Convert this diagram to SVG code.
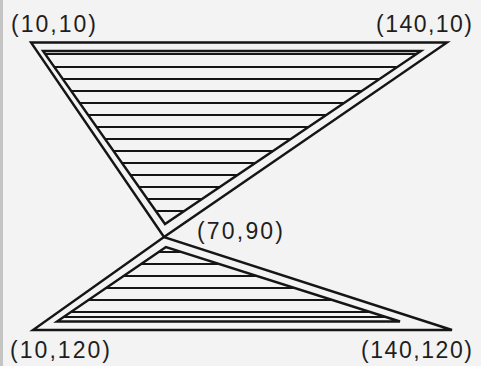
<svg xmlns="http://www.w3.org/2000/svg" width="481" height="366" viewBox="0 0 481 366">
  <style>
    .edge { fill: none; stroke: #151515; stroke-width: 2.4; stroke-linejoin: miter; }
    .hatch { stroke: #151515; stroke-width: 2.1; }
    .lbl { font-family: "Liberation Sans", Arial, sans-serif; font-size: 23px; fill: #1e1e1e; }
  </style>
  <defs>
    <clipPath id="clipTop">
      <polygon points="43,51 421,51 165,224"/>
    </clipPath>
    <clipPath id="clipBot">
      <polygon points="166,247 57,321.5 400,321.5"/>
    </clipPath>
  </defs>
  <rect x="0" y="0" width="481" height="366" fill="#f3f3f3"/>
  <rect x="0" y="0" width="3" height="366" fill="#c4c4c4"/>

  <g id="top-triangle">
    <polygon class="edge" points="31,42.5 447,42.5 164,237"/>
    <polygon class="edge" points="43,51 421,51 165,224"/>
    <g clip-path="url(#clipTop)">
      <line class="hatch" x1="0" y1="54" x2="481" y2="54"/>
      <line class="hatch" x1="0" y1="67" x2="481" y2="67"/>
      <line class="hatch" x1="0" y1="79" x2="481" y2="79"/>
      <line class="hatch" x1="0" y1="91" x2="481" y2="91"/>
      <line class="hatch" x1="0" y1="103" x2="481" y2="103"/>
      <line class="hatch" x1="0" y1="115" x2="481" y2="115"/>
      <line class="hatch" x1="0" y1="127" x2="481" y2="127"/>
      <line class="hatch" x1="0" y1="139" x2="481" y2="139"/>
      <line class="hatch" x1="0" y1="151" x2="481" y2="151"/>
      <line class="hatch" x1="0" y1="163" x2="481" y2="163"/>
      <line class="hatch" x1="0" y1="175" x2="481" y2="175"/>
      <line class="hatch" x1="0" y1="187" x2="481" y2="187"/>
      <line class="hatch" x1="0" y1="199" x2="481" y2="199"/>
      <line class="hatch" x1="0" y1="211" x2="481" y2="211"/>
    </g>
  </g>

  <g id="bottom-triangle">
    <polygon class="edge" points="164,237 33,330 452,330"/>
    <polygon class="edge" points="166,247 57,321.5 400,321.5"/>
    <g clip-path="url(#clipBot)">
      <line class="hatch" x1="0" y1="252" x2="481" y2="252"/>
      <line class="hatch" x1="0" y1="264" x2="481" y2="264"/>
      <line class="hatch" x1="0" y1="276" x2="481" y2="276"/>
      <line class="hatch" x1="0" y1="288" x2="481" y2="288"/>
      <line class="hatch" x1="0" y1="300" x2="481" y2="300"/>
      <line class="hatch" x1="0" y1="312" x2="481" y2="312"/>
      <line class="hatch" x1="0" y1="317" x2="481" y2="317"/>
    </g>
  </g>

  <g id="labels">
    <text class="lbl" x="11" y="32" textLength="85" lengthAdjust="spacing">(10,10)</text>
    <text class="lbl" x="376" y="32" textLength="96" lengthAdjust="spacing">(140,10)</text>
    <text class="lbl" x="197" y="239" textLength="86" lengthAdjust="spacing">(70,90)</text>
    <text class="lbl" x="10" y="358" textLength="100" lengthAdjust="spacing">(10,120)</text>
    <text class="lbl" x="361" y="358" textLength="111" lengthAdjust="spacing">(140,120)</text>
  </g>
</svg>
